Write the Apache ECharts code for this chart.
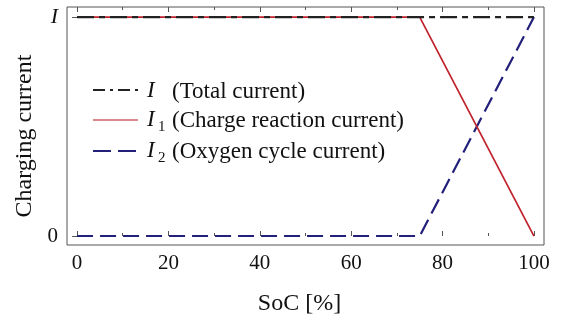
<!DOCTYPE html>
<html>
<head>
<meta charset="utf-8">
<script src="https://cdn.jsdelivr.net/npm/echarts@6/dist/echarts.min.js"></script>
<style>
  html, body { margin: 0; padding: 0; background: #fff; }
  #chart { width: 565px; height: 320px; }
</style>
</head>
<body>
<div id="chart"></div>
<script>
// State of charge [%] and charging currents (normalised to total current I)
const socTotal = [0, 100];
const totalCurrent = [1, 1];
const socBreak = [0, 75, 100];
const chargeReactionCurrent = [1, 1, 0];
const oxygenCycleCurrent = [0, 0, 1];

const xMajorTicks = [0, 20, 40, 60, 80, 100];
const xMinorTicks = [10, 30, 50, 70, 90];
const yTicks = [0, 1];
const yTickLabels = ['0', 'I'];

const SERIF = '"Liberation Serif", "DejaVu Serif", serif';
const FRAME = '#555';
const INK = '#111';
const C_TOTAL = '#222';
const C_CHARGE = '#c0232c';
const C_OXYGEN = '#23207a';
const pairs = (xs, ys) => xs.map((x, i) => [x, ys[i]]);

const chart = echarts.init(document.getElementById('chart'));

const baseX = {
  type: 'value', min: -2.2, max: 102.2, gridIndex: 0,
  splitLine: { show: false },
  axisLine: { show: false }
};
const baseY = {
  type: 'value', min: -0.041, max: 1.046, gridIndex: 0,
  splitLine: { show: false },
  axisLine: { show: false }
};

chart.setOption({
  animation: false,
  grid: {
    left: 67, right: 21, top: 7, bottom: 75,
    outerBoundsMode: 'none', containLabel: false,
    show: true, borderColor: FRAME, borderWidth: 1, backgroundColor: 'transparent'
  },
  xAxis: [
    Object.assign({}, baseX, {
      position: 'bottom',
      name: 'SoC [%]', nameLocation: 'middle', nameGap: 47,
      nameTextStyle: { fontFamily: SERIF, fontSize: 24, color: INK, padding: [0, 12, 0, 0] },
      axisTick: { inside: true, length: 5, lineStyle: { color: FRAME }, customValues: xMajorTicks },
      axisLabel: { fontFamily: SERIF, fontSize: 21, color: INK, margin: 8, customValues: xMajorTicks }
    }),
    Object.assign({}, baseX, {
      position: 'bottom',
      axisTick: { inside: true, length: 3, lineStyle: { color: FRAME }, customValues: xMinorTicks },
      axisLabel: { show: false }
    }),
    Object.assign({}, baseX, {
      position: 'top',
      axisTick: { inside: true, length: 5, lineStyle: { color: FRAME }, customValues: xMajorTicks },
      axisLabel: { show: false }
    }),
    Object.assign({}, baseX, {
      position: 'top',
      axisTick: { inside: true, length: 3, lineStyle: { color: FRAME }, customValues: xMinorTicks },
      axisLabel: { show: false }
    })
  ],
  yAxis: [
    Object.assign({}, baseY, {
      position: 'left',
      name: 'Charging current', nameLocation: 'middle', nameGap: 26, nameRotate: 90,
      nameTextStyle: { fontFamily: SERIF, fontSize: 24, color: INK, padding: [0, 20, 0, 0] },
      axisTick: { inside: true, length: 5, lineStyle: { color: FRAME }, customValues: yTicks },
      axisLabel: {
        customValues: yTicks, margin: 9,
        fontFamily: SERIF, fontSize: 21, color: INK,
        formatter: v => {
          const t = yTickLabels[yTicks.indexOf(v)];
          return t === 'I' ? '{it|I}' : t;
        },
        rich: { it: { fontFamily: SERIF, fontSize: 22, fontStyle: 'italic', color: INK } }
      }
    }),
    Object.assign({}, baseY, {
      position: 'right',
      axisTick: { inside: true, length: 5, lineStyle: { color: FRAME }, customValues: yTicks },
      axisLabel: { show: false }
    })
  ],
  series: [
    {
      name: 'I2', type: 'line', xAxisIndex: 0, yAxisIndex: 0,
      data: pairs(socBreak, oxygenCycleCurrent),
      symbol: 'none', z: 3,
      lineStyle: { color: C_OXYGEN, width: 2.2, type: [16, 7] }
    },
    {
      name: 'I1', type: 'line', xAxisIndex: 0, yAxisIndex: 0,
      data: pairs(socBreak, chargeReactionCurrent),
      symbol: 'none', z: 4,
      lineStyle: { color: C_CHARGE, width: 1.7 }
    },
    {
      name: 'I', type: 'line', xAxisIndex: 0, yAxisIndex: 0,
      data: pairs(socTotal, totalCurrent),
      symbol: 'none', z: 5,
      lineStyle: { color: C_TOTAL, width: 2.2, type: [17, 5, 6, 5] }
    }
  ],
  graphic: [
    // key: line samples
    { type: 'line', shape: { x1: 93, y1: 90, x2: 138, y2: 90 }, style: { stroke: C_TOTAL, lineWidth: 2, lineDash: [12, 5, 3, 5] } },
    { type: 'line', shape: { x1: 93, y1: 120, x2: 138, y2: 120 }, style: { stroke: '#d0606a', lineWidth: 1.3 } },
    { type: 'line', shape: { x1: 93, y1: 151, x2: 138, y2: 151 }, style: { stroke: C_OXYGEN, lineWidth: 2, lineDash: [18, 7] } },
    // key: symbols
    { type: 'text', x: 147, y: 91, style: { text: 'I', font: 'italic 23px ' + SERIF, fill: INK, verticalAlign: 'middle' } },
    { type: 'text', x: 147, y: 120, style: { text: 'I', font: 'italic 23px ' + SERIF, fill: INK, verticalAlign: 'middle' } },
    { type: 'text', x: 158, y: 127, style: { text: '1', font: '15px ' + SERIF, fill: INK, verticalAlign: 'middle' } },
    { type: 'text', x: 147, y: 151, style: { text: 'I', font: 'italic 23px ' + SERIF, fill: INK, verticalAlign: 'middle' } },
    { type: 'text', x: 158, y: 158, style: { text: '2', font: '15px ' + SERIF, fill: INK, verticalAlign: 'middle' } },
    // key: descriptions
    { type: 'text', x: 172, y: 92, style: { text: '(Total current)', font: '23px ' + SERIF, fill: INK, verticalAlign: 'middle' } },
    { type: 'text', x: 172, y: 121, style: { text: '(Charge reaction current)', font: '23px ' + SERIF, fill: INK, verticalAlign: 'middle' } },
    { type: 'text', x: 172, y: 152, style: { text: '(Oxygen cycle current)', font: '23px ' + SERIF, fill: INK, verticalAlign: 'middle' } }
  ]
});
</script>
</body>
</html>
